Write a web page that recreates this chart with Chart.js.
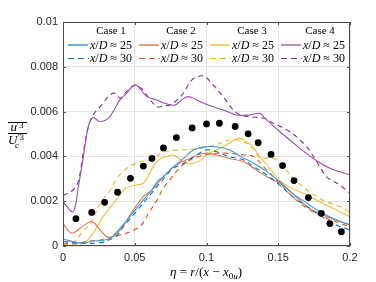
<!DOCTYPE html>
<html><head><meta charset="utf-8">
<script src="https://cdn.jsdelivr.net/npm/chart.js@4/dist/chart.umd.min.js"></script>
<style>html,body{margin:0;padding:0;background:#fff}canvas{display:block}</style>
</head><body>
<canvas id="c" width="376" height="282"></canvas>
<script>
// ---------- data ----------
const xTickLabels = ['0','0.05','0.1','0.15','0.2'];
const yTickLabels = ['0','0.002','0.004','0.006','0.008','0.01'];
const caseNames = ['Case 1','Case 2','Case 3','Case 4'];
const seriesLabels = ['x/D ≈ 25','x/D ≈ 30'];

const dotsX = [0.009,0.020,0.029,0.038,0.047,0.056,0.062,0.070,0.079,0.090,0.100,0.109,0.120,0.129,0.136,0.145,0.153,0.161,0.171,0.180,0.186,0.194];
const dotsY = [0.00122,0.0015,0.00195,0.0024,0.00302,0.00357,0.00391,0.00438,0.00484,0.00527,0.00545,0.00548,0.00534,0.00501,0.00461,0.00409,0.00359,0.00292,0.00216,0.00146,0.001,0.00064];

const case1_25x = [0,0.007,0.014,0.02,0.027,0.033,0.037,0.042,0.049,0.056,0.062,0.066,0.07,0.077,0.084,0.091,0.100,0.107,0.116,0.124,0.133,0.142,0.151,0.160,0.170,0.179,0.188,0.2];
const case1_25y = [0.0003,0.0002,0.00012,0.00022,0.00025,0.00034,0.0006,0.00095,0.0015,0.00205,0.0025,0.0029,0.0031,0.00354,0.00391,0.00429,0.00443,0.00443,0.00429,0.00399,0.00369,0.00332,0.00287,0.00235,0.00191,0.00153,0.00124,0.00094];

const case1_30x = [0,0.012,0.026,0.033,0.038,0.042,0.05,0.057,0.063,0.07,0.077,0.084,0.093,0.100,0.107,0.116,0.126,0.133,0.142,0.151,0.160,0.170,0.179,0.188,0.2];
const case1_30y = [0.0002,0.00012,0.00015,0.0003,0.0005,0.00086,0.00146,0.002,0.00245,0.003,0.00347,0.00369,0.00406,0.00429,0.00421,0.00399,0.00384,0.00354,0.00317,0.00272,0.0022,0.00176,0.00138,0.00101,0.00071];

const case2_25x = [0,0.006,0.012,0.02,0.026,0.0305,0.035,0.042,0.049,0.056,0.062,0.07,0.079,0.0885,0.098,0.107,0.116,0.126,0.133,0.142,0.151,0.160,0.170,0.181,0.193,0.2];
const case2_25y = [0.001,0.00057,0.00079,0.00109,0.00071,0.00042,0.00042,0.0009,0.0016,0.0022,0.0025,0.0031,0.00362,0.00391,0.00414,0.00406,0.00391,0.00376,0.00347,0.00309,0.0028,0.00235,0.00176,0.00138,0.00109,0.00094];

const case2_30x = [0,0.01,0.016,0.026,0.035,0.044,0.054,0.06,0.066,0.07,0.075,0.0815,0.0885,0.098,0.107,0.116,0.126,0.133,0.142,0.151,0.160,0.170,0.181,0.193,0.2];
const case2_30y = [0.0001,0.0001,0.0002,0.00027,0.00042,0.00057,0.0009,0.0015,0.0021,0.0026,0.003,0.0035,0.00384,0.00406,0.00414,0.00414,0.00406,0.00399,0.00339,0.0028,0.0022,0.00168,0.00131,0.00101,0.00086];

const case3_25x = [0,0.005,0.014,0.021,0.028,0.037,0.044,0.051,0.056,0.06,0.065,0.07,0.077,0.082,0.086,0.09,0.095,0.102,0.112,0.122,0.127,0.132,0.137,0.144,0.152,0.16,0.17,0.181,0.193,0.2];
const case3_25y = [0.0002,0.0002,0.00012,0.00057,0.00131,0.00205,0.0026,0.00272,0.0028,0.0032,0.00376,0.00395,0.00406,0.00385,0.0037,0.00368,0.0038,0.00414,0.00443,0.00481,0.0047,0.00445,0.004,0.00347,0.00287,0.00257,0.00228,0.00191,0.00153,0.00131];

const case3_30x = [0,0.008,0.012,0.019,0.026,0.033,0.0374,0.0444,0.054,0.063,0.07,0.082,0.0955,0.106,0.116,0.122,0.128,0.133,0.137,0.147,0.1535,0.1605,0.17,0.181,0.193,0.2];
const case3_30y = [0.00004,0.0002,0.0005,0.001,0.0019,0.0025,0.003,0.00347,0.00376,0.0039,0.0042,0.00429,0.00436,0.00451,0.00473,0.00473,0.00458,0.0043,0.00395,0.00391,0.00354,0.00302,0.0025,0.00205,0.00176,0.00153];

const case4_25x = [0,0.007,0.0107,0.0142,0.0176,0.0207,0.0258,0.0316,0.0362,0.0397,0.0444,0.0495,0.0525,0.0583,0.0653,0.0711,0.078,0.0827,0.0873,0.0932,0.1013,0.1117,0.121,0.1303,0.1373,0.1408,0.1512,0.1652,0.1744,0.186,0.2];
const case4_25y = [0.00198,0.00153,0.00265,0.00399,0.00533,0.00574,0.00555,0.0057,0.00615,0.00652,0.00682,0.00719,0.00711,0.00667,0.00652,0.00637,0.00629,0.00652,0.00667,0.00652,0.00629,0.00607,0.00585,0.00585,0.00592,0.0057,0.0051,0.00436,0.00391,0.00347,0.00317];

const case4_30x = [0,0.007,0.0107,0.0142,0.0176,0.0211,0.0258,0.0328,0.0362,0.04,0.0444,0.0495,0.0545,0.0583,0.0653,0.07,0.0746,0.078,0.0838,0.0897,0.0955,0.099,0.1047,0.1117,0.1187,0.1233,0.1303,0.14,0.1466,0.1582,0.1698,0.1768,0.1838,0.193,0.2];
const case4_30y = [0.00225,0.0025,0.0029,0.0042,0.0053,0.00585,0.00622,0.00674,0.00682,0.0066,0.0069,0.00716,0.00704,0.00674,0.00622,0.00625,0.0063,0.00644,0.00682,0.00741,0.00759,0.00756,0.00719,0.00667,0.00607,0.00585,0.00577,0.0057,0.00548,0.0051,0.00443,0.00376,0.00309,0.00272,0.00235];

// ---------- styling ----------
const darkColors = ['#0072BD','#D95319','#EDB120','#7E2F8E'];
const solidColors = ['#3a98d6','#e2724a','#f2bd3c','#9a4cae'];
const legendSolid = ['#6fb3e4','#ec9c7c','#f5d07e','#b98bc8'];
const FONT = "'Liberation Sans', Arial, sans-serif";
const SERIF = "'Liberation Serif', 'DejaVu Serif', serif";

function pts(xs, ys){ return xs.map((x,i)=>({x:x, y:ys[i]})); }
const seriesData = [
  [pts(case1_25x,case1_25y), pts(case1_30x,case1_30y)],
  [pts(case2_25x,case2_25y), pts(case2_30x,case2_30y)],
  [pts(case3_25x,case3_25y), pts(case3_30x,case3_30y)],
  [pts(case4_25x,case4_25y), pts(case4_30x,case4_30y)]
];
const datasets = [];
seriesData.forEach((pair, ci)=>{
  datasets.push({label: caseNames[ci]+' '+seriesLabels[0], data: pair[0], borderColor: solidColors[ci], borderWidth: 1.1, pointRadius: 0, fill:false, tension:0.35, order: 2});
  datasets.push({label: caseNames[ci]+' '+seriesLabels[1], data: pair[1], borderColor: darkColors[ci], borderWidth: 1.1, borderDash:[5,4], pointRadius: 0, fill:false, tension:0.35, order: 2});
});
datasets.push({label:'data', data: pts(dotsX,dotsY), showLine:false, pointRadius:3.4, pointBackgroundColor:'#000', pointBorderColor:'#000', borderWidth:0, order:1});

// draw math-ish text pieces: [text, italic, dy, sizeScale]
function drawPieces(ctx, pieces, x, y, size, align){
  let total = 0;
  const widths = pieces.map(p=>{ ctx.font = (p[1]?'italic ':'')+Math.round(size*(p[3]||1))+'px '+SERIF; const w = ctx.measureText(p[0]).width; total+=w; return w; });
  let cx = align==='center' ? x - total/2 : x;
  pieces.forEach((p,i)=>{ ctx.font = (p[1]?'italic ':'')+Math.round(size*(p[3]||1))+'px '+SERIF; ctx.fillText(p[0], cx, y + (p[2]||0)); cx += widths[i]; });
  return total;
}

const decor = {
  id:'decor',
  afterDraw(chart){
    const ctx = chart.ctx, a = chart.chartArea;
    const xs = chart.scales.x, ys = chart.scales.y;
    ctx.save();
    // box
    ctx.strokeStyle = '#4a4a4a'; ctx.lineWidth = 1;
    ctx.strokeRect(Math.round(a.left)+0.5, Math.round(a.top)+0.5, Math.round(a.right-a.left)-1, Math.round(a.bottom-a.top)-1);
    // inward ticks
    const tl = 3;
    xs.ticks.forEach(t=>{ const px = Math.round(xs.getPixelForValue(t.value))+0.5;
      ctx.beginPath(); ctx.moveTo(px,a.bottom); ctx.lineTo(px,a.bottom-tl); ctx.moveTo(px,a.top); ctx.lineTo(px,a.top+tl); ctx.stroke(); });
    ys.ticks.forEach(t=>{ const py = Math.round(ys.getPixelForValue(t.value))+0.5;
      ctx.beginPath(); ctx.moveTo(a.left,py); ctx.lineTo(a.left+tl,py); ctx.moveTo(a.right,py); ctx.lineTo(a.right-tl,py); ctx.stroke(); });
    // legend
    ctx.fillStyle = '#000'; ctx.textBaseline = 'alphabetic';
    const colX = [68,139,210,281];
    const titleX = [111,181,252,320];
    caseNames.forEach((n,i)=>{
      ctx.font = '11px '+SERIF; ctx.textAlign='center'; ctx.fillText(n, titleX[i], 34);
      ctx.textAlign='left';
      // solid
      ctx.setLineDash([]); ctx.strokeStyle = legendSolid[i]; ctx.lineWidth = 2;
      ctx.beginPath(); ctx.moveTo(colX[i],45); ctx.lineTo(colX[i]+20,45); ctx.stroke();
      ctx.setLineDash([6,4]); ctx.strokeStyle = darkColors[i]; ctx.lineWidth = 1.2;
      ctx.beginPath(); ctx.moveTo(colX[i],58.5); ctx.lineTo(colX[i]+21,58.5); ctx.stroke();
      ctx.setLineDash([]);
      ctx.fillStyle='#000';
      drawPieces(ctx, [['x',true],['/',false],['D',true],[' ≈ 25',false]], colX[i]+22, 48.5, 11.5, 'left');
      drawPieces(ctx, [['x',true],['/',false],['D',true],[' ≈ 30',false]], colX[i]+22, 62, 11.5, 'left');
    });
    // x label
    ctx.fillStyle='#000';
    drawPieces(ctx, [['η',true],[' = ',false],['r',true],['/(',false],['x',true],[' − ',false],['x',true],['0',false,3,0.72],['u',true,3,0.72],[')',false]], 206, 275.5, 12.5, 'center');
    // y label (fraction)
    const cx = 17;
    ctx.strokeStyle='#000'; ctx.lineWidth=1;
    ctx.beginPath(); ctx.moveTo(8,122.5); ctx.lineTo(27,122.5); ctx.stroke();
    ctx.beginPath(); ctx.moveTo(8,133.5); ctx.lineTo(27,133.5); ctx.stroke();
    drawPieces(ctx, [['u',true],['′',false,-3,0.75],['3',false,-3,0.72]], cx, 131, 12.5, 'center');
    drawPieces(ctx, [['U',true],['′',false,-4,0.72],['3',false,-4,0.72]], cx-1, 144, 12.5, 'center');
    ctx.font = 'italic 9px '+SERIF; ctx.textAlign='left'; ctx.fillText('c', 15, 148);
    ctx.restore();
  }
};

new Chart(document.getElementById('c'), {
  type:'line',
  data:{datasets},
  options:{
    responsive:false, animation:false, devicePixelRatio:1,
    layout:{padding:{left:0,right:26,top:22,bottom:0}},
    plugins:{legend:{display:false}, tooltip:{enabled:false}},
    scales:{
      x:{type:'linear', min:0, max:0.2,
        ticks:{stepSize:0.05, color:'#262626', font:{family:FONT,size:11}, padding:5, maxRotation:0,
          callback:(v,i)=>xTickLabels[i]},
        grid:{color:'#e3e3e3', drawTicks:false, lineWidth:1},
        border:{display:false},
        afterFit:(s)=>{s.height=36;}
      },
      y:{type:'linear', min:0, max:0.01,
        ticks:{stepSize:0.002, color:'#262626', font:{family:FONT,size:11}, padding:5,
          callback:(v,i)=>yTickLabels[i]},
        grid:{color:'#e3e3e3', drawTicks:false, lineWidth:1},
        border:{display:false},
        afterFit:(s)=>{s.width=63;}
      }
    }
  },
  plugins:[decor]
});
</script>
</body></html>
